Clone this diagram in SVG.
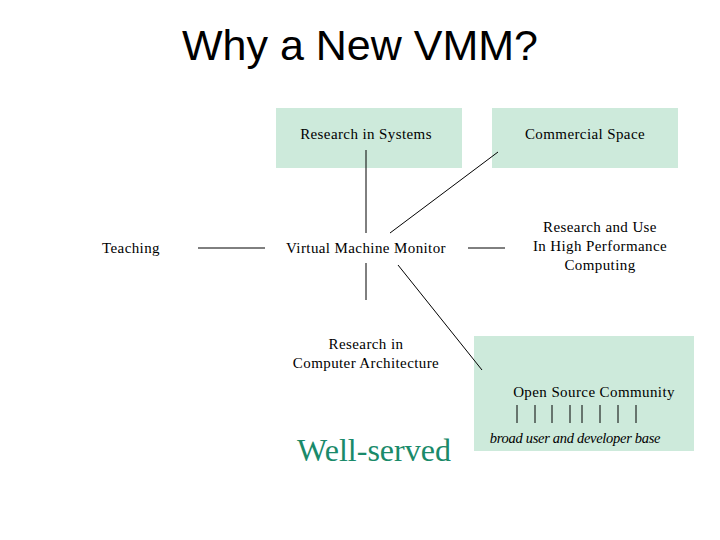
<svg xmlns="http://www.w3.org/2000/svg" width="720" height="540" viewBox="0 0 720 540">
<style>
.t{font-family:"Liberation Serif",serif;font-size:15px;fill:#000;text-anchor:middle;letter-spacing:0.4px}
.b{fill:#cdeadb}
.c line{stroke:#000;stroke-width:1}
</style>
<rect width="720" height="540" fill="#fff"/>
<text x="360" y="60" font-family="Liberation Sans,sans-serif" font-size="43" text-anchor="middle">Why a New VMM?</text>
<g id="research-systems"><rect class="b" x="276" y="108" width="186" height="60"/><text class="t" x="366" y="139">Research in Systems</text></g>
<g id="commercial"><rect class="b" x="492" y="108" width="186" height="60"/><text class="t" x="585" y="139">Commercial Space</text></g>
<g id="teaching"><text class="t" x="131" y="253">Teaching</text></g>
<g id="vmm"><text class="t" x="366" y="253">Virtual Machine Monitor</text></g>
<g id="hpc"><text class="t" x="600" y="232">Research and Use</text><text class="t" x="600" y="251">In High Performance</text><text class="t" x="600" y="270">Computing</text></g>
<g id="arch"><text class="t" x="366" y="349">Research in</text><text class="t" x="366" y="368">Computer Architecture</text></g>
<g id="oss"><rect class="b" x="474" y="336" width="220" height="115"/><text class="t" x="594" y="397">Open Source Community</text>
<g stroke="#000"><line x1="517" y1="405" x2="517" y2="423"/><line x1="535" y1="405" x2="535" y2="423"/><line x1="552" y1="405" x2="552" y2="423"/><line x1="570" y1="405" x2="570" y2="423"/><line x1="582" y1="405" x2="582" y2="423"/><line x1="600" y1="405" x2="600" y2="423"/><line x1="618" y1="405" x2="618" y2="423"/><line x1="636" y1="405" x2="636" y2="423"/></g>
<text x="575" y="443" font-family="Liberation Serif,serif" font-size="14.5" font-style="italic" text-anchor="middle" letter-spacing="-0.3">broad user and developer base</text></g>
<g id="well"><text x="374" y="461" font-family="Liberation Serif,serif" font-size="32" fill="#1a8a6a" text-anchor="middle">Well-served</text></g>
<g class="c">
<line x1="366" y1="150" x2="366" y2="233"/>
<line x1="498" y1="152" x2="390" y2="233"/>
<line x1="198" y1="248" x2="265" y2="248"/>
<line x1="468" y1="248" x2="505" y2="248"/>
<line x1="366" y1="263" x2="366" y2="300"/>
<line x1="398" y1="265" x2="482" y2="370"/>
</g>
</svg>
